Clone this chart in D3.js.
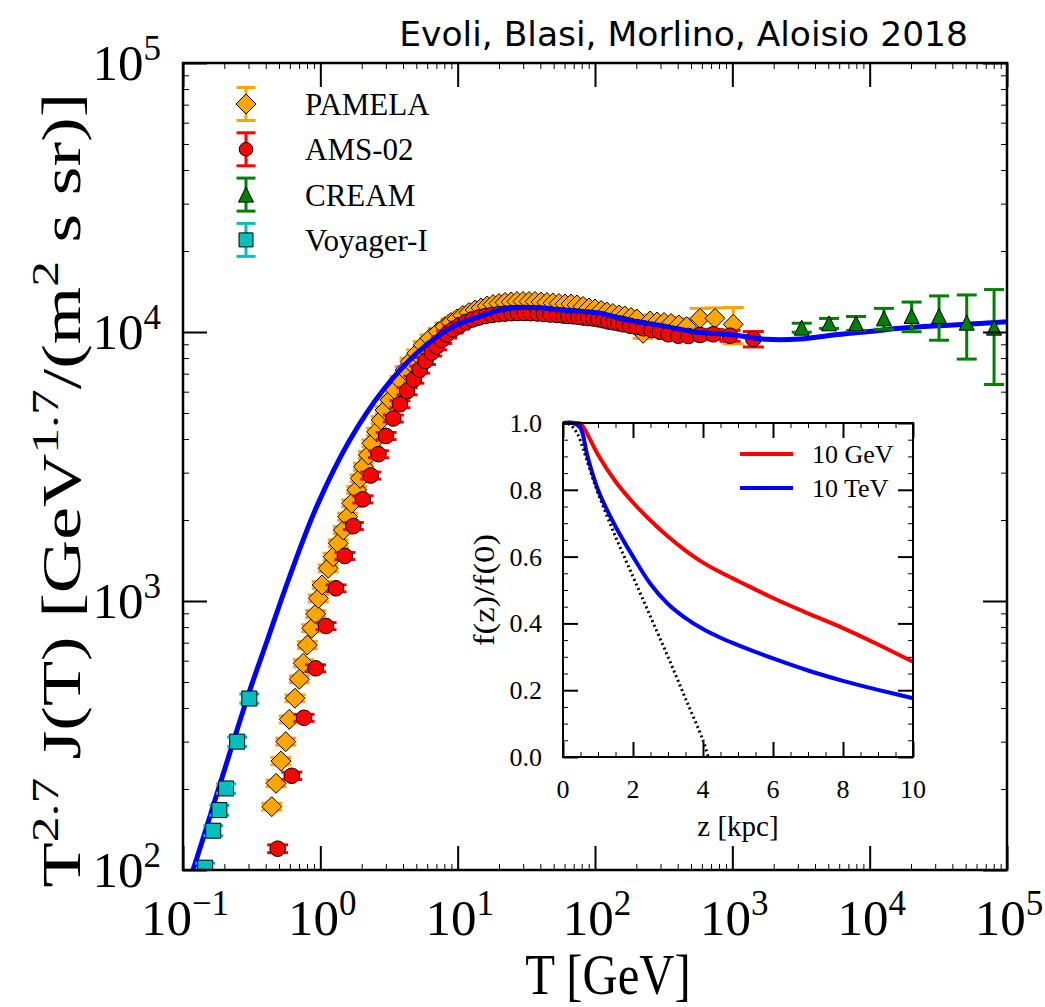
<!DOCTYPE html>
<html>
<head>
<meta charset="utf-8">
<script src="https://cdn.jsdelivr.net/npm/d3@7"></script>
<style>
  body { margin: 0; background: #fff; }
  text { font-family: "Liberation Serif", "Times New Roman", serif; fill: #000; }
</style>
</head>
<body>
<svg width="1045" height="1007"></svg>
<script>
// ---- data ----
// PAMELA protons: kinetic energy T [GeV], T^2.7 J(T), error
var pamelaT = [0.443, 0.476, 0.517, 0.560, 0.594, 0.654, 0.703, 0.752, 0.804, 0.865,
  0.925, 0.967, 1.03, 1.14, 1.24, 1.35, 1.47, 1.58, 1.69, 1.84,
  1.95, 2.06, 2.24, 2.37, 2.57, 2.77, 2.96, 3.22, 3.50, 3.80,
  4.14, 4.50, 5.03, 5.62, 6.29, 7.23, 8.09, 8.94, 9.89, 10.9,
  12.1, 13.4, 14.8, 16.4, 18.1, 20.0, 22.1, 24.5, 27.0, 29.9,
  33.1, 36.6, 40.5, 44.7, 49.5, 54.7, 60.5, 66.9, 74.0, 81.8,
  90.4, 100, 111, 122, 135, 150, 165, 183, 202, 224,
  252, 283, 318, 358, 409, 465, 582, 748, 1016];
var pamelaJ = [172, 210, 254, 300, 363, 435, 512, 587, 686, 792,
  895, 1023, 1147, 1323, 1461, 1639, 1836, 2058, 2308, 2586,
  2858, 3157, 3490, 3857, 4260, 4709, 5129, 5587, 6087, 6631,
  7222, 7756, 8333, 8948, 9476, 10025, 10481, 10846, 11176, 11516,
  11816, 12072, 12280, 12494, 12653, 12762, 12874, 12927, 12984, 12984,
  12984, 12984, 12927, 12874, 12818, 12762, 12709, 12709, 12601, 12440,
  12280, 12175, 12020, 11866, 11717, 11568, 11469, 11322, 11176, 9890,
  10987, 10894, 10846, 10754, 10617, 10464, 11242, 11242, 10681];
var pamelaErr = [5, 6, 8, 9, 11, 13, 15, 18, 21, 24,
  27, 31, 34, 40, 44, 49, 55, 62, 69, 78,
  86, 95, 105, 116, 128, 141, 154, 168, 183, 199,
  217, 233, 250, 268, 284, 301, 314, 325, 335, 345,
  354, 362, 368, 375, 380, 383, 386, 388, 390, 390,
  390, 390, 388, 386, 385, 383, 381, 381, 378, 373,
  368, 365, 361, 356, 352, 347, 360, 380, 400, 420,
  450, 480, 520, 560, 600, 650, 1000, 1050, 1650];

// AMS-02 protons
var amsT = [0.489, 0.619, 0.761, 0.925, 1.10, 1.30, 1.51, 1.74, 2.04, 2.33,
  2.65, 3.01, 3.40, 3.80, 4.28, 4.79, 5.29, 5.83, 6.47, 7.04,
  7.65, 8.32, 9.25, 10.3, 11.5, 12.8, 14.3, 16.0, 17.8, 19.8,
  22.1, 24.7, 27.5, 30.7, 34.2, 38.1, 42.5, 47.4, 52.9, 58.8,
  63.9, 69.5, 75.6, 82.2, 89.4, 97.2, 106, 115, 125, 136,
  148, 161, 180, 201, 225, 259, 297, 342, 404, 478,
  582, 727, 962, 1422];
var amsJ = [120, 224, 368, 562, 807, 1115, 1470, 1900, 2388, 2928,
  3513, 4106, 4769, 5390, 6025, 6653, 7248, 7803, 8391, 8847,
  9340, 9788, 10216, 10573, 10894, 11130, 11322, 11469, 11568, 11648,
  11706, 11747, 11766, 11766, 11747, 11717, 11667, 11614, 11568, 11516,
  11469, 11440, 11391, 11322, 11272, 11224, 11148, 11053, 10940, 10866,
  10772, 10681, 10554, 10437, 10323, 10172, 10025, 9804, 9687, 9663,
  9745, 9804, 9687, 9419];
var amsErr = [4, 7, 11, 17, 24, 33, 44, 57, 72, 88,
  105, 123, 143, 162, 181, 200, 217, 234, 252, 265,
  280, 294, 306, 317, 327, 334, 340, 344, 347, 349,
  351, 352, 353, 353, 352, 352, 350, 348, 347, 345,
  344, 343, 342, 340, 338, 337, 334, 332, 328, 326,
  323, 320, 317, 313, 310, 305, 300, 300, 310, 330,
  390, 420, 450, 620];

// CREAM protons
var creamT = [3200, 5060, 7960, 12700, 20200, 32000, 50900, 80500];
var creamJ = [10380, 10770, 10770, 11240, 11470, 11470, 10830, 10380];
var creamErr = [400, 460, 650, 1000, 1450, 2150, 2900, 4000];

// Voyager-I protons
var voyagerT = [0.145, 0.166, 0.184, 0.206, 0.248, 0.304];
var voyagerJ = [102, 140, 167, 201, 300, 434];
var voyagerErr = [4, 6, 7, 8, 12, 17];

// model spectrum (blue line)
var modelT = [0.112, 0.119, 0.190, 0.307, 0.407, 0.585, 0.94, 1.64, 2.87, 5.03,
  8.8, 15.4, 24.0, 39.8, 55.6, 109, 170, 333, 520, 1012,
  1780, 3110, 5430, 9520, 16600, 29100, 50900, 100000];
var modelJ = [92.8, 101, 216, 467, 704, 1197, 2243, 3967, 6087, 8332,
  10320, 11560, 12250, 12300, 12070, 11740, 11080, 10470, 10025, 9750,
  9390, 9420, 9750, 10025, 10320, 10527, 10680, 10922];

// inset: f(z)/f(0) profiles
var gevZ = [0, 0.4, 0.5, 0.6, 0.8, 1.0, 1.5, 2, 2.5, 3, 3.5, 4, 4.5, 5, 6, 7, 8, 9, 10];
var gevF = [1.0, 1.0, 0.998, 0.985, 0.945, 0.905, 0.825, 0.762, 0.708, 0.66, 0.618, 0.582, 0.553, 0.527, 0.476, 0.43, 0.386, 0.337, 0.285];
var tevZ = [0, 0.3, 0.5, 0.7, 1.0, 1.5, 2, 2.5, 3, 3.5, 4, 4.5, 5, 6, 7, 8, 9, 10];
var tevF = [1.0, 1.0, 0.985, 0.90, 0.80, 0.69, 0.60, 0.518, 0.458, 0.416, 0.383, 0.357, 0.335, 0.295, 0.259, 0.228, 0.201, 0.176];
var dotZ = [0, 0.2, 0.4, 0.6, 0.8, 1.0, 1.5, 2.0, 2.5, 3.0, 3.5, 4.0, 4.15];
var dotF = [1.0, 0.995, 0.97, 0.915, 0.85, 0.79, 0.66, 0.54, 0.42, 0.30, 0.175, 0.05, 0.0];

var xExponents = [-1, 0, 1, 2, 3, 4, 5];
var yExponents = [2, 3, 4, 5];
var insetXTicks = [0, 2, 4, 6, 8, 10];
var insetYTicks = [0, 0.2, 0.4, 0.6, 0.8, 1.0];

// ---- setup ----
var svg = d3.select("svg");
var pL = 183, pR = 1007, pT = 63, pB = 870;

var x = d3.scaleLog().domain([0.1, 1e5]).range([pL, pR]);
var y = d3.scaleLog().domain([100, 1e5]).range([pB, pT]);

function zip(a, b, c) {
  return a.map(function (v, i) { return { t: v, j: b[i], e: c ? c[i] : 0 }; });
}

// marker shapes
var shapes = {
  diamond: function (r) { return "M0," + (-r) + "L" + r + ",0L0," + r + "L" + (-r) + ",0Z"; },
  circle: function (r) { return "M" + r + ",0A" + r + "," + r + " 0 1,1 " + (-r) + ",0A" + r + "," + r + " 0 1,1 " + r + ",0Z"; },
  triangle: function (r) { return "M0," + (-r) + "L" + r + "," + r + "L" + (-r) + "," + r + "Z"; },
  square: function (r) { return "M" + (-r) + "," + (-r) + "H" + r + "V" + r + "H" + (-r) + "Z"; }
};

svg.append("defs").append("clipPath").attr("id", "plotclip")
  .append("rect").attr("x", pL).attr("y", pT)
  .attr("width", pR - pL).attr("height", pB - pT);

var plot = svg.append("g").attr("clip-path", "url(#plotclip)");

function drawSeries(data, color, shape, size, cap) {
  var g = plot.append("g");
  var bars = g.append("g").attr("stroke", color).attr("stroke-width", 3);
  bars.selectAll(".v").data(data).enter().append("line")
    .attr("x1", function (d) { return x(d.t); })
    .attr("x2", function (d) { return x(d.t); })
    .attr("y1", function (d) { return y(d.j + d.e); })
    .attr("y2", function (d) { return y(d.j - d.e); });
  [1, -1].forEach(function (s) {
    bars.selectAll(".c" + s).data(data).enter().append("line")
      .attr("x1", function (d) { return x(d.t) - cap; })
      .attr("x2", function (d) { return x(d.t) + cap; })
      .attr("y1", function (d) { return y(d.j + s * d.e); })
      .attr("y2", function (d) { return y(d.j + s * d.e); });
  });
  g.selectAll("path").data(data).enter().append("path")
    .attr("d", shapes[shape](size))
    .attr("transform", function (d) { return "translate(" + x(d.t) + "," + y(d.j) + ")"; })
    .attr("fill", color).attr("stroke", "#000").attr("stroke-width", 1);
}

drawSeries(zip(pamelaT, pamelaJ, pamelaErr), "#ffa500", "diamond", 10, 10.5);
drawSeries(zip(amsT, amsJ, amsErr), "#ff0000", "circle", 7.8, 10.5);

// model line
var line = d3.line()
  .x(function (d) { return x(d.t); })
  .y(function (d) { return y(d.j); })
  .curve(d3.curveCatmullRom);
plot.append("path").datum(zip(modelT, modelJ))
  .attr("d", line).attr("fill", "none")
  .attr("stroke", "#0000ff").attr("stroke-width", 5);

drawSeries(zip(voyagerT, voyagerJ, voyagerErr), "#00bfbf", "square", 7.5, 10);
drawSeries(zip(creamT, creamJ, creamErr), "#008000", "triangle", 7.5, 10);

// ---- main axes ----
var majorX = xExponents.map(function (e) { return Math.pow(10, e); });
var majorY = yExponents.map(function (e) { return Math.pow(10, e); });
var minorX = [], minorY = [];
for (var e = -1; e < 5; e++) for (var m = 2; m < 10; m++) minorX.push(m * Math.pow(10, e));
for (var e2 = 2; e2 < 5; e2++) for (var m2 = 2; m2 < 10; m2++) minorY.push(m2 * Math.pow(10, e2));

function tickAxis(axis, pos, values, len, width) {
  var g = svg.append("g").attr("transform", pos)
    .call(axis.tickValues(values).tickSize(-len).tickSizeOuter(0).tickFormat(""));
  g.select(".domain").remove();
  g.selectAll(".tick line").attr("stroke", "#000").attr("stroke-width", width);
  return g;
}

tickAxis(d3.axisBottom(x), "translate(0," + pB + ")", majorX, 24, 2);
tickAxis(d3.axisTop(x), "translate(0," + pT + ")", majorX, 24, 2);
tickAxis(d3.axisLeft(y), "translate(" + pL + ",0)", majorY, 24, 2);
tickAxis(d3.axisRight(y), "translate(" + pR + ",0)", majorY, 24, 2);
tickAxis(d3.axisBottom(x), "translate(0," + pB + ")", minorX, 6, 1);
tickAxis(d3.axisTop(x), "translate(0," + pT + ")", minorX, 6, 1);
tickAxis(d3.axisLeft(y), "translate(" + pL + ",0)", minorY, 6, 1);
tickAxis(d3.axisRight(y), "translate(" + pR + ",0)", minorY, 6, 1);

svg.append("rect").attr("x", pL).attr("y", pT)
  .attr("width", pR - pL).attr("height", pB - pT)
  .attr("fill", "none").attr("stroke", "#000").attr("stroke-width", 2.5);

function powText(t, ex) {
  t.append("tspan").text("10");
  t.append("tspan").attr("font-size", 35).attr("dy", -20)
    .text(ex < 0 ? "\u2212" + (-ex) : ex);
}

xExponents.forEach(function (ex) {
  var t = svg.append("text").attr("x", x(Math.pow(10, ex)) + 2).attr("y", 935)
    .attr("text-anchor", "middle").attr("font-size", 51);
  powText(t, ex);
});
yExponents.forEach(function (ex) {
  var t = svg.append("text").attr("x", 161).attr("y", y(Math.pow(10, ex)) + 17)
    .attr("text-anchor", "end").attr("font-size", 51);
  powText(t, ex);
});

// x label
svg.append("text").attr("transform", "translate(608,994) scale(0.87,1)")
  .attr("text-anchor", "middle").attr("font-size", 56).text("T [GeV]");

// y label with superscripts
var yl = svg.append("text").attr("transform", "translate(80,490) rotate(-90) scale(1.32,1)")
  .attr("text-anchor", "middle").attr("font-size", 56);
[["T", 0], ["2.7", 1], [" J(T) [GeV", 0], ["1.7", 1], ["/(m", 0], ["2", 1], [" s sr)]", 0]]
  .forEach(function (p, i, arr) {
    var ts = yl.append("tspan").text(p[0]);
    if (p[1]) ts.attr("font-size", 39).attr("dy", -22);
    else if (i > 0 && arr[i - 1][1]) ts.attr("dy", 22);
  });

// title
svg.append("text").attr("x", 968).attr("y", 46).attr("text-anchor", "end")
  .attr("font-size", 34.5)
  .style("font-family", "'Comic Sans MS', 'DejaVu Sans', sans-serif")
  .text("Evoli, Blasi, Morlino, Aloisio 2018");

// ---- legend ----
var legendItems = [
  { name: "PAMELA", color: "#ffa500", shape: "diamond", size: 10 },
  { name: "AMS-02", color: "#ff0000", shape: "circle", size: 6.8 },
  { name: "CREAM", color: "#008000", shape: "triangle", size: 7.5 },
  { name: "Voyager-I", color: "#00bfbf", shape: "square", size: 7 }
];
var leg = svg.append("g").selectAll("g").data(legendItems).enter().append("g")
  .attr("transform", function (d, i) { return "translate(246," + (104 + i * 45.3) + ")"; });
leg.append("line").attr("y1", -16.5).attr("y2", 16.5)
  .attr("stroke", function (d) { return d.color; }).attr("stroke-width", 3);
leg.append("line").attr("x1", -9.5).attr("x2", 9.5).attr("y1", -16.5).attr("y2", -16.5)
  .attr("stroke", function (d) { return d.color; }).attr("stroke-width", 3);
leg.append("line").attr("x1", -9.5).attr("x2", 9.5).attr("y1", 16.5).attr("y2", 16.5)
  .attr("stroke", function (d) { return d.color; }).attr("stroke-width", 3);
leg.append("path").attr("d", function (d) { return shapes[d.shape](d.size); })
  .attr("fill", function (d) { return d.color; }).attr("stroke", "#000").attr("stroke-width", 1);
leg.append("text").attr("x", 59).attr("y", 11).attr("font-size", 31)
  .text(function (d) { return d.name; });

// ---- inset ----
var iL = 563, iR = 913, iT = 423, iB = 757;
var xi = d3.scaleLinear().domain([0, 10]).range([iL, iR]);
var yi = d3.scaleLinear().domain([0, 1]).range([iB, iT]);
var inset = svg.append("g");
inset.append("rect").attr("x", iL).attr("y", iT).attr("width", iR - iL).attr("height", iB - iT)
  .attr("fill", "#fff");

function pairs(a, b) { return a.map(function (v, i) { return [v, b[i]]; }); }
var iline = d3.line()
  .x(function (d) { return xi(d[0]); })
  .y(function (d) { return yi(d[1]); })
  .curve(d3.curveCatmullRom);

inset.append("path").datum(pairs(gevZ, gevF)).attr("d", iline)
  .attr("fill", "none").attr("stroke", "#ff0000").attr("stroke-width", 4);
inset.append("path").datum(pairs(tevZ, tevF)).attr("d", iline)
  .attr("fill", "none").attr("stroke", "#0000ff").attr("stroke-width", 4);
inset.append("path").datum(pairs(dotZ, dotF)).attr("d", iline)
  .attr("fill", "none").attr("stroke", "#000").attr("stroke-width", 3)
  .attr("stroke-dasharray", "2,3");

function insetAxis(axis, pos, values, len, width) {
  var g = inset.append("g").attr("transform", pos)
    .call(axis.tickValues(values).tickSize(-len).tickSizeOuter(0).tickFormat(""));
  g.select(".domain").remove();
  g.selectAll(".tick line").attr("stroke", "#000").attr("stroke-width", width);
}
var iMinorX = d3.range(0, 10.01, 0.5).filter(function (v) { return v % 2 !== 0; });
var iMinorY = d3.range(0, 1.001, 0.05).filter(function (v) { return Math.abs(v * 5 - Math.round(v * 5)) > 1e-6; });
insetAxis(d3.axisBottom(xi), "translate(0," + iB + ")", insetXTicks, 15, 2);
insetAxis(d3.axisTop(xi), "translate(0," + iT + ")", insetXTicks, 15, 2);
insetAxis(d3.axisLeft(yi), "translate(" + iL + ",0)", insetYTicks, 15, 2);
insetAxis(d3.axisRight(yi), "translate(" + iR + ",0)", insetYTicks, 15, 2);
insetAxis(d3.axisBottom(xi), "translate(0," + iB + ")", iMinorX, 5, 1);
insetAxis(d3.axisTop(xi), "translate(0," + iT + ")", iMinorX, 5, 1);
insetAxis(d3.axisLeft(yi), "translate(" + iL + ",0)", iMinorY, 5, 1);
insetAxis(d3.axisRight(yi), "translate(" + iR + ",0)", iMinorY, 5, 1);

inset.append("rect").attr("x", iL).attr("y", iT).attr("width", iR - iL).attr("height", iB - iT)
  .attr("fill", "none").attr("stroke", "#000").attr("stroke-width", 2);

inset.selectAll(".xl").data(insetXTicks).enter().append("text")
  .attr("x", function (d) { return xi(d); }).attr("y", 798)
  .attr("text-anchor", "middle").attr("font-size", 26).text(function (d) { return d; });
inset.selectAll(".yl").data(insetYTicks).enter().append("text")
  .attr("x", 542).attr("y", function (d) { return yi(d) + 9; })
  .attr("text-anchor", "end").attr("font-size", 26).text(d3.format(".1f"));
inset.append("text").attr("x", 738).attr("y", 836).attr("text-anchor", "middle")
  .attr("font-size", 29).text("z [kpc]");
inset.append("text").attr("transform", "translate(494,590) rotate(-90) scale(1.2,1)")
  .attr("text-anchor", "middle").attr("font-size", 29).text("f(z)/f(0)");

var insetLegend = [{ name: "10 GeV", color: "#ff0000" }, { name: "10 TeV", color: "#0000ff" }];
var il = inset.selectAll(".lg").data(insetLegend).enter().append("g")
  .attr("transform", function (d, i) { return "translate(740," + (454 + i * 34) + ")"; });
il.append("line").attr("x1", 0).attr("x2", 53)
  .attr("stroke", function (d) { return d.color; }).attr("stroke-width", 4);
il.append("text").attr("x", 72).attr("y", 9).attr("font-size", 26)
  .text(function (d) { return d.name; });
</script>
</body>
</html>
